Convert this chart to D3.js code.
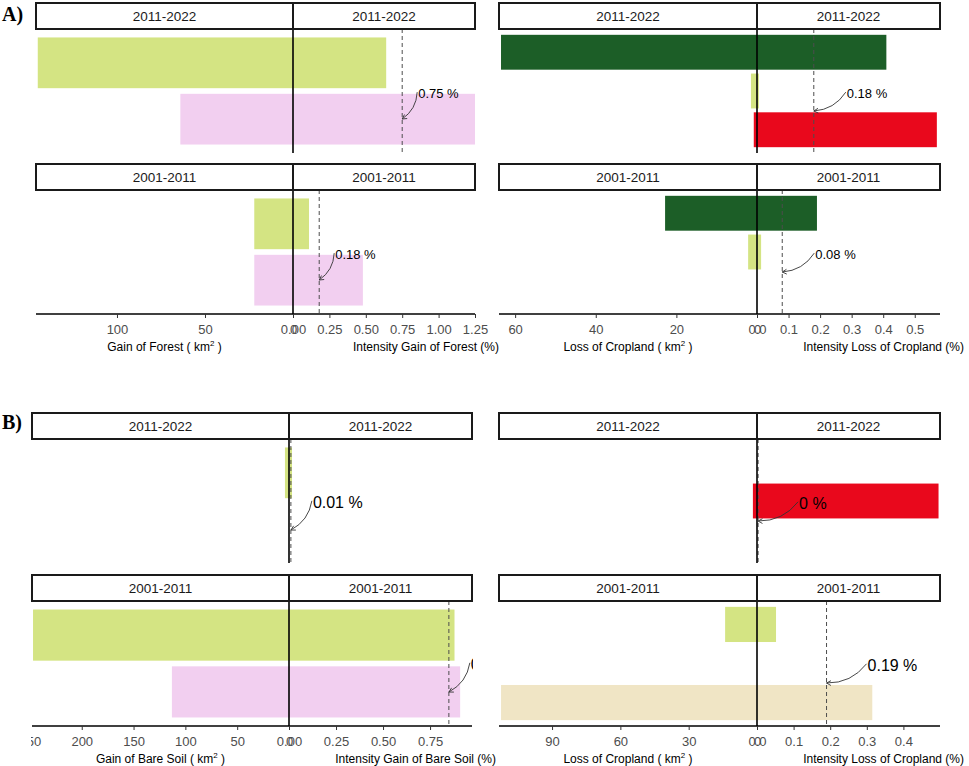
<!DOCTYPE html>
<html>
<head>
<meta charset="utf-8">
<script src="https://cdn.jsdelivr.net/npm/d3@7"></script>
<style>
  body { margin: 0; background: #fff; }
  svg { display: block; }
  text { font-family: "Liberation Sans", Arial, sans-serif; }
</style>
</head>
<body>
<div id="chart"></div>
<script>
"use strict";

/* facet periods, top panel first */
const periods = ["2011-2022", "2001-2011"];

/* A) left : gain of forest */
const forestGainCats = ["Grassland", "Shrubland"];
const forestGainArea = [[145, 64], [22, 22]];
const forestGainIntensity = [[0.64, 1.25], [0.11, 0.48]];
const forestGainUniform = [0.75, 0.18];
const forestGainAreaTicks = [100, 50, 0];
const forestGainIntensityTicks = [0, 0.25, 0.5, 0.75, 1.0, 1.25];
const forestGainLimits = [146, 1.25];

/* A) right : loss of cropland */
const cropLossACats = ["Forest", "Grassland", "Built-up"];
const cropLossAArea = [[63.5, 1.5, 0.8], [22.8, 2.2, 0]];
const cropLossAIntensity = [[0.41, 0.006, 0.57], [0.19, 0.013, 0]];
const cropLossAUniform = [0.18, 0.08];
const cropLossAAreaTicks = [60, 40, 20, 0];
const cropLossAIntensityTicks = [0, 0.1, 0.2, 0.3, 0.4, 0.5];
const cropLossALimits = [64, 0.58];

/* B) left : gain of bare soil */
const bareGainCats = ["Grassland", "Shrubland"];
const bareGainArea = [[3.9, 0], [247, 113]];
const bareGainIntensity = [[0.016, 0], [0.88, 0.91]];
const bareGainUniform = [0.01, 0.85];
const bareGainAreaTicks = [250, 200, 150, 100, 50, 0];
const bareGainIntensityTicks = [0, 0.25, 0.5, 0.75];
const bareGainLimits = [248, 0.973];

/* B) right : loss of cropland */
const cropLossBCats = ["Grassland", "Built-up", "Bare soil"];
const cropLossBArea = [[0, 1.8, 0], [14, 0, 112.4]];
const cropLossBIntensity = [[0, 0.496, 0], [0.052, 0, 0.315]];
const cropLossBUniform = [0.003, 0.19];
const cropLossBAreaTicks = [90, 60, 30, 0];
const cropLossBIntensityTicks = [0, 0.1, 0.2, 0.3, 0.4];
const cropLossBLimits = [113.3, 0.5];

const catColors = {
  "Grassland": "#d4e483",
  "Shrubland": "#f2cff0",
  "Forest":    "#1c5e27",
  "Built-up":  "#e9081c",
  "Bare soil": "#f0e5c5"
};

const STRIP_H = 26;

/* figure layout (pixel positions only) */
const figures = [
  { tag: "A)", tagY: 21, cats: forestGainCats, area: forestGainArea, intensity: forestGainIntensity,
    uniform: forestGainUniform, areaTicks: forestGainAreaTicks, intTicks: forestGainIntensityTicks,
    limits: forestGainLimits, fmt: ".2f", x0: 36, xMid: 293, x1: 475,
    strips: [3, 164], bottoms: [153, 314], labelFont: 13, labelDx: 16, labelDy: 69, tipDy: 90,
    areaTitle: "Gain of Forest", intTitle: "Intensity Gain of Forest (%)", clipLeft: null },
  { tag: null, cats: cropLossACats, area: cropLossAArea, intensity: cropLossAIntensity,
    uniform: cropLossAUniform, areaTicks: cropLossAAreaTicks, intTicks: cropLossAIntensityTicks,
    limits: cropLossALimits, fmt: ".1f", x0: 499, xMid: 757, x1: 940,
    strips: [3, 164], bottoms: [153, 314], labelFont: 13, labelDx: 33, labelDy: 69, tipDy: 82,
    areaTitle: "Loss of Cropland", intTitle: "Intensity Loss of Cropland (%)", clipLeft: null },
  { tag: "B)", tagY: 429, cats: bareGainCats, area: bareGainArea, intensity: bareGainIntensity,
    uniform: bareGainUniform, areaTicks: bareGainAreaTicks, intTicks: bareGainIntensityTicks,
    limits: bareGainLimits, fmt: ".2f", x0: 32, xMid: 289, x1: 472,
    strips: [413, 575], bottoms: [563, 726], labelFont: 16, labelDx: 22, labelDy: 69, tipDy: 91,
    areaTitle: "Gain of Bare Soil", intTitle: "Intensity Gain of Bare Soil (%)", clipLeft: 31 },
  { tag: null, cats: cropLossBCats, area: cropLossBArea, intensity: cropLossBIntensity,
    uniform: cropLossBUniform, areaTicks: cropLossBAreaTicks, intTicks: cropLossBIntensityTicks,
    limits: cropLossBLimits, fmt: ".1f", x0: 499, xMid: 757, x1: 940,
    strips: [413, 575], bottoms: [563, 726], labelFont: 16, labelDx: 41, labelDy: 70, tipDy: 82,
    areaTitle: "Loss of Cropland", intTitle: "Intensity Loss of Cropland (%)", clipLeft: null }
];

const svg = d3.select("#chart").append("svg")
  .attr("width", 969)
  .attr("height", 766);

const defs = svg.append("defs");

/* curved annotation arrow, bowed to the lower right */
function drawArrow(g, S, E) {
  const dx = E[0] - S[0], dy = E[1] - S[1];
  const len = Math.hypot(dx, dy);
  const n = [dy / len, -dx / len];
  const C = [(S[0] + E[0]) / 2 + n[0] * 0.25 * len, (S[1] + E[1]) / 2 + n[1] * 0.25 * len];
  g.append("path")
    .attr("d", `M${S[0]},${S[1]} Q${C[0]},${C[1]} ${E[0]},${E[1]}`)
    .attr("fill", "none").attr("stroke", "#333").attr("stroke-width", 0.9);
  const ux = E[0] - C[0], uy = E[1] - C[1];
  const ul = Math.hypot(ux, uy);
  const a = Math.atan2(uy / ul, ux / ul);
  const hl = 5, ha = 0.5;
  const p1 = [E[0] - hl * Math.cos(a - ha), E[1] - hl * Math.sin(a - ha)];
  const p2 = [E[0] - hl * Math.cos(a + ha), E[1] - hl * Math.sin(a + ha)];
  g.append("path")
    .attr("d", `M${p1[0]},${p1[1]} L${E[0]},${E[1]} L${p2[0]},${p2[1]}`)
    .attr("fill", "none").attr("stroke", "#333").attr("stroke-width", 0.9);
}

function styleAxis(sel) {
  sel.attr("font-size", 13);
  sel.select(".domain").remove();
  sel.selectAll(".tick line").attr("stroke", "#333").attr("stroke-width", 1);
  sel.selectAll(".tick text").attr("fill", "#4d4d4d");
}

function drawFigure(f, fi) {
  const g = svg.append("g");

  if (f.clipLeft !== null) {
    defs.append("clipPath").attr("id", "figclip" + fi)
      .append("rect").attr("x", f.clipLeft).attr("y", 0).attr("width", 969).attr("height", 766);
    g.attr("clip-path", `url(#figclip${fi})`);
  }

  /* left panel: area (reversed), right panel: intensity */
  const xArea = d3.scaleLinear().domain([0, f.limits[0]]).range([f.xMid, f.x0]);
  const xInt  = d3.scaleLinear().domain([0, f.limits[1]]).range([f.xMid, f.x1]);

  periods.forEach(function(period, p) {
    const top = f.strips[p] + STRIP_H;
    const bottom = f.bottoms[p];

    const y = d3.scaleBand()
      .domain(f.cats)
      .range([top, bottom])
      .paddingInner(0.1)
      .paddingOuter(0.15);

    const rows = f.cats
      .map(function(c, i) { return { cat: c, area: f.area[p][i], intensity: f.intensity[p][i] }; })
      .filter(function(d) { return d.area > 0 || d.intensity > 0; });

    /* bars */
    g.selectAll(null)
      .data(rows)
      .enter().append("rect")
      .attr("x", function(d) { return xArea(d.area); })
      .attr("y", function(d) { return y(d.cat); })
      .attr("width", function(d) { return xInt(d.intensity) - xArea(d.area); })
      .attr("height", y.bandwidth())
      .attr("fill", function(d) { return catColors[d.cat]; });

    /* uniform intensity line */
    const ux = xInt(f.uniform[p]);
    g.append("line")
      .attr("x1", ux).attr("x2", ux)
      .attr("y1", top).attr("y2", bottom)
      .attr("stroke", "#4d4d4d").attr("stroke-width", 1)
      .attr("stroke-dasharray", "4,3");

    /* zero line */
    g.append("line")
      .attr("x1", f.xMid).attr("x2", f.xMid)
      .attr("y1", top).attr("y2", bottom)
      .attr("stroke", "#000").attr("stroke-width", 1.6);

    /* strips */
    const strips = [[f.x0, f.xMid], [f.xMid, f.x1]];
    strips.forEach(function(s) {
      g.append("rect")
        .attr("x", s[0]).attr("y", f.strips[p])
        .attr("width", s[1] - s[0]).attr("height", STRIP_H)
        .attr("fill", "#fff").attr("stroke", "#1a1a1a").attr("stroke-width", 2);
      g.append("text")
        .attr("x", (s[0] + s[1]) / 2).attr("y", f.strips[p] + STRIP_H / 2)
        .attr("dy", "0.36em")
        .attr("text-anchor", "middle")
        .attr("font-size", 13.5)
        .attr("fill", "#1a1a1a")
        .text(period);
    });

    /* label + arrow, clipped to the panel */
    const cid = `lab${fi}_${p}`;
    defs.append("clipPath").attr("id", cid)
      .append("rect").attr("x", f.x0).attr("y", top)
      .attr("width", f.x1 - f.x0 + 1).attr("height", bottom - top);
    const lg = g.append("g").attr("clip-path", `url(#${cid})`);
    const lx = ux + f.labelDx;
    const ly = top + f.labelDy;
    lg.append("text")
      .attr("x", lx).attr("y", ly)
      .attr("font-size", f.labelFont)
      .attr("fill", "#000")
      .text(d3.format(".2~f")(f.uniform[p]) + " %");
    drawArrow(lg, [lx - 1, ly - f.labelFont * 0.45], [ux, top + f.tipDy]);
  });

  /* bottom axes */
  const axisY = f.bottoms[1];
  g.append("line")
    .attr("x1", f.x0).attr("x2", f.x1)
    .attr("y1", axisY).attr("y2", axisY)
    .attr("stroke", "#000").attr("stroke-width", 1.3);

  g.append("g")
    .attr("transform", `translate(0,${axisY})`)
    .call(d3.axisBottom(xArea).tickValues(f.areaTicks).tickFormat(d3.format("d")).tickSize(4).tickPadding(7))
    .call(styleAxis);

  g.append("g")
    .attr("transform", `translate(0,${axisY})`)
    .call(d3.axisBottom(xInt).tickValues(f.intTicks).tickFormat(d3.format(f.fmt)).tickSize(4).tickPadding(7))
    .call(styleAxis);

  /* axis titles */
  const t = g.append("text")
    .attr("x", (f.x0 + f.xMid) / 2).attr("y", axisY + 37)
    .attr("text-anchor", "middle")
    .attr("font-size", 12)
    .attr("fill", "#000");
  t.append("tspan").text(f.areaTitle + " ( km");
  t.append("tspan").attr("dy", -5).attr("font-size", 8).text("2");
  t.append("tspan").attr("dy", 5).text(" )");

  g.append("text")
    .attr("x", f.x1 + 24).attr("y", axisY + 37)
    .attr("text-anchor", "end")
    .attr("font-size", 12)
    .attr("fill", "#000")
    .text(f.intTitle);

  if (f.tag) {
    svg.append("text")
      .attr("x", 2).attr("y", f.tagY)
      .style("font-family", "\"Liberation Serif\", \"Times New Roman\", serif")
      .attr("font-weight", "bold")
      .attr("font-size", 20)
      .text(f.tag);
  }
}

figures.forEach(drawFigure);
</script>
</body>
</html>
